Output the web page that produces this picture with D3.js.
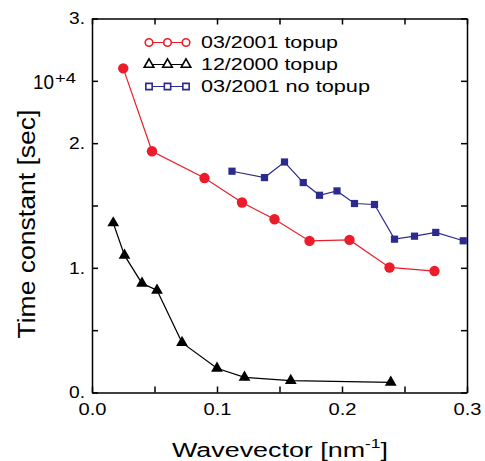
<!DOCTYPE html>
<html>
<head>
<meta charset="utf-8">
<script src="https://cdn.jsdelivr.net/npm/d3@7"></script>
<style>
  body { margin: 0; background: #fff; }
  svg { display: block; font-family: "Liberation Sans", Arial, sans-serif; }
</style>
</head>
<body>
<div class="chart"></div>
<script>
// data (time constant in units of 10^4 sec)
var topupX = [0.025, 0.048, 0.090, 0.120, 0.146, 0.174, 0.206, 0.238, 0.274];
var topupY = [2.60, 1.935, 1.72, 1.524, 1.39, 1.216, 1.224, 1.003, 0.974];

var dec2000X = [0.017, 0.026, 0.040, 0.052, 0.072, 0.100, 0.122, 0.159, 0.239];
var dec2000Y = [1.36, 1.10, 0.875, 0.82, 0.40, 0.194, 0.122, 0.095, 0.082];

var notopupX = [0.112, 0.138, 0.154, 0.169, 0.182, 0.196, 0.210, 0.226, 0.242, 0.258, 0.275, 0.297];
var notopupY = [1.775, 1.724, 1.849, 1.684, 1.582, 1.617, 1.516, 1.508, 1.23, 1.254, 1.284, 1.217];

var seriesNames = ["03/2001 topup", "12/2000 topup", "03/2001 no topup"];
var xTicks = [0, 0.05, 0.1, 0.15, 0.2, 0.25, 0.3];
var yTicks = [0, 0.5, 1, 1.5, 2, 2.5, 3];

var red = "#ec1c2a", blue = "#2c2a8c", black = "#000";

// canvas
var width = 485, height = 461;
var padding = {left: 92, right: 18, top: 18.5, bottom: 68.5};
var w = width - padding.left - padding.right;
var h = height - padding.top - padding.bottom;

var svg = d3.select(".chart").append("svg")
    .attr("width", width)
    .attr("height", height);

var g = svg.append("g").attr("transform", "translate(" + padding.left + "," + padding.top + ")");

// scales
var xScale = d3.scaleLinear().domain([0, 0.3]).range([0, w]);
var yScale = d3.scaleLinear().domain([0, 3]).range([h, 0]);

// axes (ticks pointing inward)
var xAxis = d3.axisBottom(xScale).tickValues(xTicks).tickSizeInner(-6).tickSizeOuter(0).tickPadding(8)
    .tickFormat(function(d) { return Math.abs(d * 10 - Math.round(d * 10)) < 1e-6 ? d3.format(".1f")(d) : ""; });
var xTop = d3.axisTop(xScale).tickValues(xTicks).tickSizeInner(-6).tickSizeOuter(0).tickFormat("");
var yAxis = d3.axisLeft(yScale).tickValues(yTicks).tickSizeInner(-6).tickSizeOuter(0).tickPadding(7)
    .tickFormat(function(d) { return d % 1 === 0 ? d + "." : ""; });
var yRight = d3.axisRight(yScale).tickValues(yTicks).tickSizeInner(-6).tickSizeOuter(0).tickFormat("");

function styleAxis(sel) {
    sel.selectAll(".domain").attr("stroke", "#000").attr("stroke-width", 1.5);
    sel.selectAll(".tick line").attr("stroke", "#000").attr("stroke-width", 1.5);
    sel.selectAll(".tick text").attr("fill", "#000")
        .style("font-family", "'Liberation Sans', Arial, sans-serif")
        .style("font-size", "16.5px");
}

var gx = g.append("g").attr("transform", "translate(0," + h + ")").call(xAxis).call(styleAxis);
gx.selectAll(".tick text").attr("textLength", function() { return this.textContent ? 28 : null; })
    .attr("lengthAdjust", "spacingAndGlyphs").attr("dy", "0.85em");
g.append("g").call(xTop).call(styleAxis);
var gy = g.append("g").call(yAxis).call(styleAxis);
gy.selectAll(".tick text").attr("textLength", function() { return this.textContent ? 16 : null; })
    .attr("lengthAdjust", "spacingAndGlyphs");
g.append("g").attr("transform", "translate(" + w + ",0)").call(yRight).call(styleAxis);

// multiplier label
svg.append("text").attr("x", 33).attr("y", 89).attr("font-size", 20)
    .attr("textLength", 21).attr("lengthAdjust", "spacingAndGlyphs").text("10");
svg.append("text").attr("x", 55).attr("y", 82.5).attr("font-size", 14)
    .attr("textLength", 21).attr("lengthAdjust", "spacingAndGlyphs").text("+4");

// axis titles
svg.append("text")
    .attr("transform", "translate(35,224) rotate(-90)")
    .attr("text-anchor", "middle")
    .attr("font-size", 23)
    .attr("textLength", 229).attr("lengthAdjust", "spacingAndGlyphs")
    .text("Time constant [sec]");

var xt = svg.append("text")
    .attr("x", 172).attr("y", 457)
    .attr("font-size", 20)
    .attr("textLength", 216).attr("lengthAdjust", "spacingAndGlyphs");
xt.append("tspan").text("Wavevector [nm");
xt.append("tspan").attr("font-size", 13).attr("dy", -9).text("-1");
xt.append("tspan").attr("dy", 9).text("]");

// series
var series = [
    {x: topupX, y: topupY, color: red, symbol: d3.symbolCircle, size: 85},
    {x: dec2000X, y: dec2000Y, color: black, symbol: d3.symbolTriangle, size: 60},
    {x: notopupX, y: notopupY, color: blue, symbol: d3.symbolSquare, size: 52}
];

var line = d3.line()
    .x(function(d) { return xScale(d[0]); })
    .y(function(d) { return yScale(d[1]); });

series.forEach(function(s) {
    var pts = s.x.map(function(v, i) { return [v, s.y[i]]; });
    g.append("path").datum(pts)
        .attr("fill", "none").attr("stroke", s.color).attr("stroke-width", 1.2)
        .attr("d", line);
    g.selectAll(null).data(pts).enter().append("path")
        .attr("transform", function(d) { return "translate(" + xScale(d[0]) + "," + yScale(d[1]) + ")"; })
        .attr("fill", s.color)
        .attr("d", d3.symbol().type(s.symbol).size(s.size));
});

// legend (open symbols)
var legend = svg.append("g");
var legendLen = [137, 137, 169];
series.forEach(function(s, i) {
    var cy = 42.5 + i * 22;
    var xs = [149, 167.5, 186];
    legend.append("line").attr("x1", xs[0]).attr("x2", xs[2]).attr("y1", cy).attr("y2", cy)
        .attr("stroke", s.color).attr("stroke-width", 1.2);
    xs.forEach(function(x) {
        legend.append("path")
            .attr("transform", "translate(" + x + "," + cy + ")")
            .attr("fill", "#fff").attr("stroke", s.color).attr("stroke-width", 1.6)
            .attr("d", d3.symbol().type(s.symbol).size(i === 0 ? 45 : 40));
    });
    legend.append("text")
        .attr("x", 201).attr("y", cy + 5.8)
        .attr("font-size", 17)
        .attr("textLength", legendLen[i]).attr("lengthAdjust", "spacingAndGlyphs")
        .text(seriesNames[i]);
});
</script>
</body>
</html>
